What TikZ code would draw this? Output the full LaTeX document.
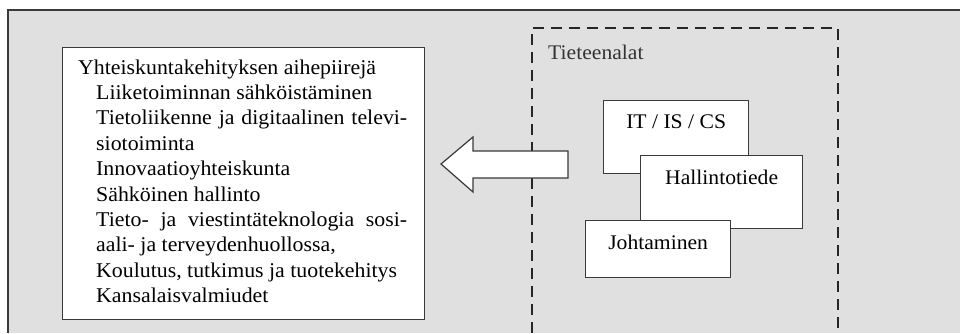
\documentclass[tikz,border=0pt]{standalone}
\usepackage{fontspec}
\setmainfont{Liberation Serif}[FakeStretch=1.04]
\definecolor{panelgray}{HTML}{E0E0E0}
\definecolor{linegray}{HTML}{3A3A3A}
\begin{document}
\begin{tikzpicture}[x=1pt,y=-1pt,
  every node/.style={font=\fontsize{20.8}{25.4}\selectfont},
  topicfont/.style={font=\fontsize{21}{25.4}\selectfont},
  whitebox/.style={draw=linegray, line width=1.3pt, fill=white, rectangle, inner sep=0pt},
  boxlabel/.style={anchor=center, inner sep=0pt, yshift=-22pt},
  arrowshape/.style={draw=linegray, line width=1.2pt, fill=white, line join=miter},
  fieldframe/.style={draw=black!85, line width=2pt, dash pattern=on 11pt off 7pt}]
\useasboundingbox (0,0) rectangle (960,333);

% background panel, open to the right and at the bottom
\fill[panelgray] (8,10) rectangle (960,333);
\draw[linegray, line width=1.5pt] (960,10) -- (8,10) -- (8,333);

% dashed frame of the fields of science
\coordinate (fbl) at (532,333);
\coordinate (ftl) at (532,28);
\coordinate (ftr) at (838,28);
\coordinate (fbr) at (838,333);
\draw[fieldframe] (fbl) -- (ftl) -- (ftr) -- (fbr);
\node[anchor=west, inner sep=0pt, text=black!80] (fieldtitle) at (548,52) {Tieteenalat};

% topic box
\node[whitebox, minimum width=362pt, minimum height=272pt, anchor=north west] (topics) at (62,47) {};
\node[topicfont, anchor=base west, inner sep=0pt] (topicstext) at (78,74) {%
  \begin{tabular}[t]{@{}l@{}}
  Yhteiskuntakehityksen aihepiirejä\\
  \hspace{18pt}Liiketoiminnan sähköistäminen\\
  \hspace{18pt}\makebox[311pt][s]{Tietoliikenne ja digitaalinen televi-}\\
  \hspace{18pt}siotoiminta\\
  \hspace{18pt}Innovaatioyhteiskunta\\
  \hspace{18pt}Sähköinen hallinto\\
  \hspace{18pt}\makebox[311pt][s]{Tieto- ja viestintäteknologia sosi-}\\
  \hspace{18pt}aali- ja terveydenhuollossa,\\
  \hspace{18pt}Koulutus, tutkimus ja tuotekehitys\\
  \hspace{18pt}Kansalaisvalmiudet
  \end{tabular}};

% block arrow pointing towards the topic box
\coordinate (tip) at (441,164);
\coordinate (ht) at (473,137);
\coordinate (st) at (473,151);
\coordinate (se) at (568,151);
\coordinate (sb) at (568,178);
\coordinate (sbb) at (473,178);
\coordinate (hb) at (473,192);
\draw[arrowshape] (tip) -- (ht) -- (st) -- (se) -- (sb) -- (sbb) -- (hb) -- cycle;

% overlapping field boxes
\node[whitebox, minimum width=145pt, minimum height=73pt, anchor=north west,
  label={[name=ittext, boxlabel]north:IT / IS / CS}] (itbox) at (603,100) {};
\node[whitebox, minimum width=162pt, minimum height=73pt, anchor=north west,
  label={[name=haltext, boxlabel]north:Hallintotiede}] (halbox) at (640,155) {};
\node[whitebox, minimum width=145pt, minimum height=57pt, anchor=north west,
  label={[name=johtext, boxlabel]north:Johtaminen}] (johbox) at (585,220) {};
\end{tikzpicture}
\end{document}
